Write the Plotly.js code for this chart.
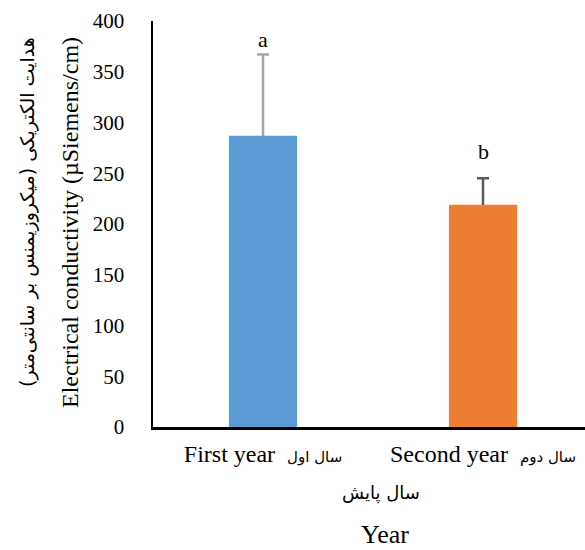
<!DOCTYPE html>
<html>
<head>
<meta charset="utf-8">
<script src="https://cdn.plot.ly/plotly-3.0.1.min.js"></script>
<style>html,body{margin:0;padding:0;background:#fff;}#chart{width:585px;height:550px;}</style>
</head>
<body>
<div id="chart"></div>
<script>
// Data
const categoriesEn = ["First year", "Second year"];
const categoriesFa = ["سال اول", "سال دوم"];
const values = [287, 219];
const errors = [80, 26];
const letters = ["a", "b"];
const barColors = ["#5b9bd5", "#ed7d31"];
const errColors = ["#a5a5a5", "#595959"];
const letterShift = [15, 27];
const yTicks = [0, 50, 100, 150, 200, 250, 300, 350, 400];

const serif = "Liberation Serif, 'Times New Roman', serif";
const faFont = "DejaVu Sans, sans-serif";
const RLM = "\u200F";

const tickText = categoriesEn.map((en, i) =>
  en + "  <span style=\"font-family:" + faFont + ";font-size:15px\">" + RLM + categoriesFa[i] + RLM + "</span>");

// Error bars first (on transparent bars); the lower half runs down to zero and is hidden
// beneath the solid bars drawn afterwards, so only the upper whisker shows.
const errTraces = categoriesEn.map((c, i) => ({
  type: "bar",
  x: [i],
  y: [values[i]],
  width: 0.31,
  marker: {color: "rgba(0,0,0,0)"},
  error_y: {type: "data", symmetric: false, array: [errors[i]], arrayminus: [values[i]], visible: true,
            color: errColors[i], thickness: 2.5, width: 6},
  hoverinfo: "skip",
  showlegend: false
}));

const barTraces = categoriesEn.map((c, i) => ({
  type: "bar",
  x: [i],
  y: [values[i]],
  width: 0.31,
  marker: {color: barColors[i]},
  hoverinfo: "skip",
  showlegend: false
}));

const PLOT_L = 153, PLOT_W = 432, PLOT_T = 21, PLOT_H = 406;
const px2x = p => (p - PLOT_L) / PLOT_W;
const px2y = p => (PLOT_T + PLOT_H - p) / PLOT_H;

const annotations = letters.map((l, i) => ({
  x: i, y: values[i] + errors[i], xref: "x", yref: "y",
  text: l, showarrow: false, yanchor: "middle", yshift: letterShift[i],
  font: {family: serif, size: 22, color: "#000"}
}));

annotations.push(
  {xref: "paper", yref: "paper", x: px2x(27), y: px2y(212), textangle: -90, showarrow: false,
   xanchor: "center", yanchor: "middle",
   text: RLM + "هدایت الکتریکی (میکروزیمنس بر سانتی‌متر)" + RLM,
   font: {family: faFont, size: 19, color: "#000"}},
  {xref: "paper", yref: "paper", x: px2x(70), y: px2y(223), textangle: -90, showarrow: false,
   xanchor: "center", yanchor: "middle",
   text: "Electrical conductivity (µSiemens/cm)",
   font: {family: serif, size: 24, color: "#000"}},
  {xref: "paper", yref: "paper", x: px2x(381), y: px2y(493), showarrow: false,
   xanchor: "center", yanchor: "middle",
   text: RLM + "سال پایش" + RLM,
   font: {family: faFont, size: 18, color: "#000"}},
  {xref: "paper", yref: "paper", x: px2x(385), y: px2y(534), showarrow: false,
   xanchor: "center", yanchor: "middle",
   text: "Year",
   font: {family: serif, size: 26, color: "#000"}}
);

const layout = {
  width: 585, height: 550,
  margin: {l: PLOT_L, r: 585 - PLOT_L - PLOT_W, t: PLOT_T, b: 550 - PLOT_T - PLOT_H, pad: 0},
  paper_bgcolor: "#fff", plot_bgcolor: "#fff",
  barmode: "overlay",
  xaxis: {
    type: "linear",
    range: [-0.5, 1.4636],
    tickvals: [0, 1],
    ticktext: tickText,
    showgrid: false, zeroline: false,
    showline: true, linecolor: "#000", linewidth: 2.5,
    ticks: "", ticklabelstandoff: 4,
    tickfont: {family: serif, size: 24, color: "#000"}
  },
  yaxis: {
    range: [0, 400],
    tickvals: yTicks,
    showgrid: false, zeroline: false,
    showline: true, linecolor: "#000", linewidth: 2.5,
    ticks: "", ticklabelstandoff: 22,
    tickfont: {family: serif, size: 21, color: "#000"}
  },
  annotations: annotations,
  font: {family: serif, color: "#000"}
};

Plotly.newPlot("chart", errTraces.concat(barTraces), layout, {displayModeBar: false, staticPlot: true});
</script>
</body>
</html>
